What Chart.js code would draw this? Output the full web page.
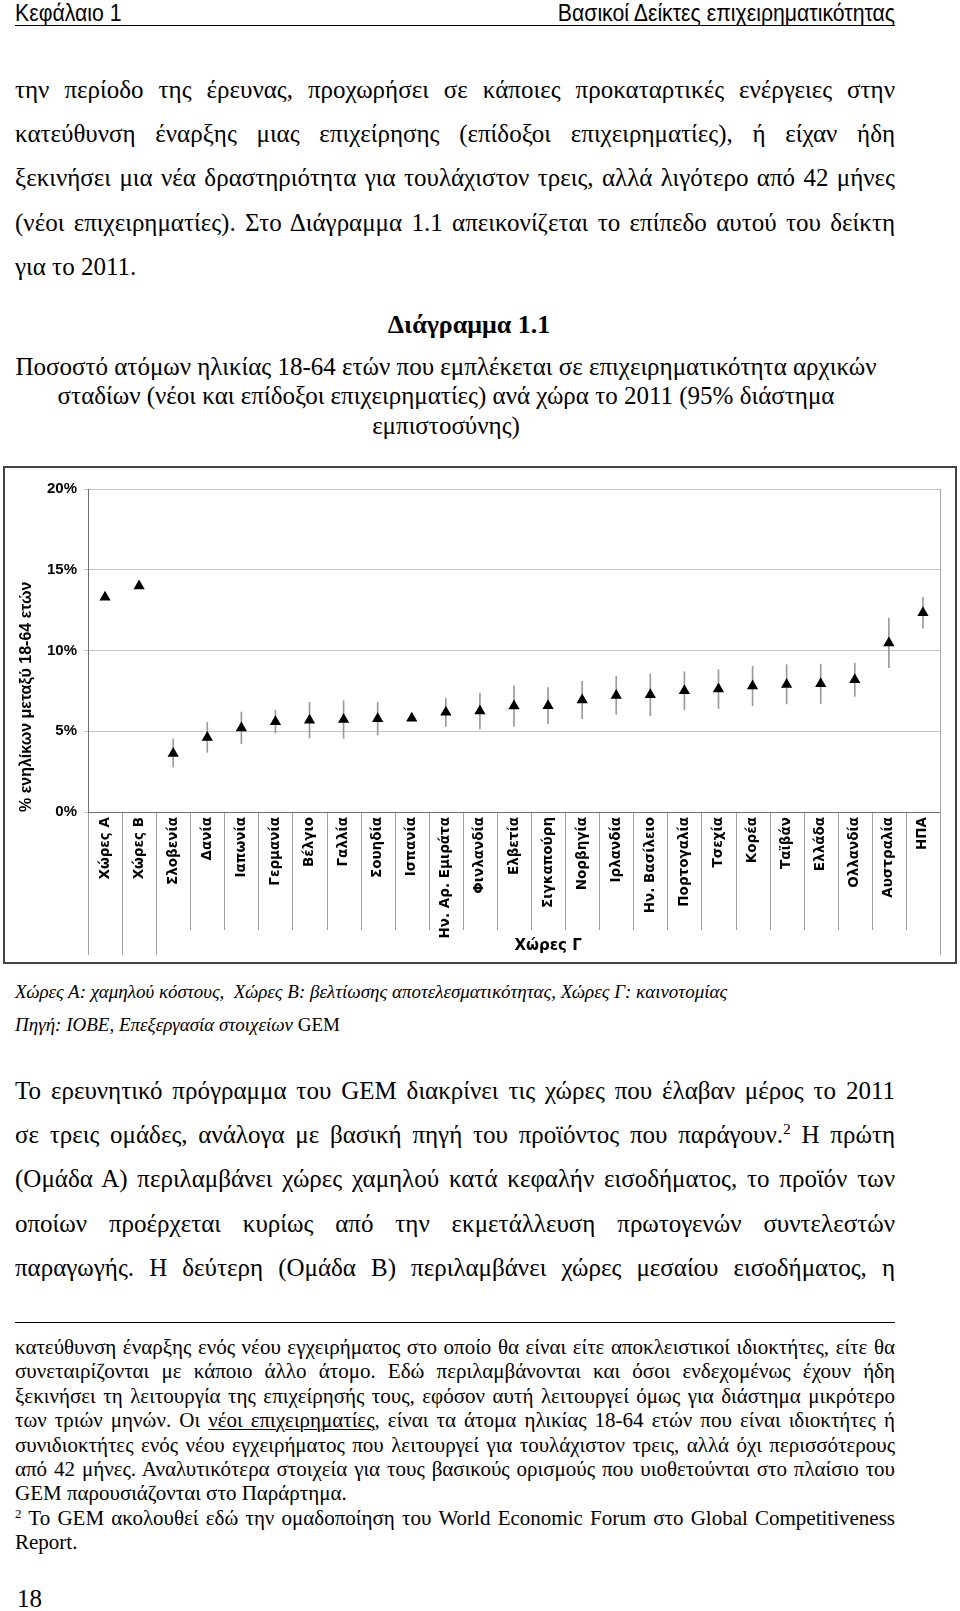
<!DOCTYPE html>
<html lang="el">
<head>
<meta charset="utf-8">
<script src="https://cdn.jsdelivr.net/npm/chart.js@4.4.0/dist/chart.umd.min.js"></script>
<style>
  html, body { margin: 0; padding: 0; background: #fff; }
  body { width: 960px; height: 1611px; position: relative; overflow: hidden; color: #000;
         font-family: "Liberation Serif", "Times New Roman", serif; }
  .abs { position: absolute; left: 15px; width: 880px; }
  .hdr { top: 0; height: 25px; border-bottom: 1.5px solid #000; font-family: "Liberation Sans", Arial, sans-serif;
         font-size: 24px; line-height: 25px; }
  .hdr span { position: absolute; top: 0; display: inline-block; transform: scaleX(.885); }
  .hdr .l { left: 0; transform-origin: left center; }
  .hdr .r { right: 0; transform-origin: right center; }
  .p { font-size: 25px; line-height: 44.2px; }
  .j { text-align: justify; text-align-last: justify; white-space: nowrap; }
  .cap-h { top: 309px; font-size: 26px; line-height: 32px; font-weight: bold; text-align: center; padding-left: 28px; box-sizing: border-box; }
  .cap { top: 352px; font-size: 25px; line-height: 29.3px; text-align: center; left: 6px; }
  #box { position: absolute; left: 3px; top: 466px; width: 954px; height: 498px; border: 2px solid #444; box-sizing: border-box; }
  #wrap { position: relative; width: 950px; height: 494px; }
  .notes { top: 975px; font-size: 19px; line-height: 33px; font-style: italic; }
  .notes .n { font-style: normal; }
  .rule { top: 1322px; height: 0; border-top: 1.5px solid #000; }
  .fn { top: 1335px; font-size: 21px; line-height: 24.4px; }
  .fn u { text-decoration-thickness: 1px; text-underline-offset: 2px; }
  sup { font-size: 62%; line-height: 0; vertical-align: 0.55em; }
  .pg { top: 1585px; left: 17px; font-size: 25px; line-height: 28px; }
</style>
</head>
<body>

<div class="abs hdr"><span class="l">Κεφάλαιο 1</span><span class="r">Βασικοί Δείκτες επιχειρηματικότητας</span></div>

<div class="abs p" style="top:68px">
  <div class="j">την περίοδο της έρευνας, προχωρήσει σε κάποιες προκαταρτικές ενέργειες στην</div>
  <div class="j">κατεύθυνση έναρξης μιας επιχείρησης (επίδοξοι επιχειρηματίες), ή είχαν ήδη</div>
  <div class="j">ξεκινήσει μια νέα δραστηριότητα για τουλάχιστον τρεις, αλλά λιγότερο από 42 μήνες</div>
  <div class="j">(νέοι επιχειρηματίες). Στο Διάγραμμα 1.1 απεικονίζεται το επίπεδο αυτού του δείκτη</div>
  <div>για το 2011.</div>
</div>

<div class="abs cap-h">Διάγραμμα 1.1</div>
<div class="abs cap">
  <div>Ποσοστό ατόμων ηλικίας 18-64 ετών που εμπλέκεται σε επιχειρηματικότητα αρχικών</div>
  <div>σταδίων (νέοι και επίδοξοι επιχειρηματίες) ανά χώρα το 2011 (95% διάστημα</div>
  <div>εμπιστοσύνης)</div>
</div>

<div id="box"><div id="wrap"><canvas id="chart"></canvas></div></div>

<div class="abs notes">
  <div>Χώρες Α: χαμηλού κόστους,&nbsp; Χώρες Β: βελτίωσης αποτελεσματικότητας, Χώρες Γ: καινοτομίας</div>
  <div>Πηγή: ΙΟΒΕ, Επεξεργασία στοιχείων <span class="n">GEM</span></div>
</div>

<div class="abs p" style="top:1069px">
  <div class="j">Το ερευνητικό πρόγραμμα του GEM διακρίνει τις χώρες που έλαβαν μέρος το 2011</div>
  <div class="j">σε τρεις ομάδες, ανάλογα με βασική πηγή του προϊόντος που παράγουν.<sup>2</sup> Η πρώτη</div>
  <div class="j">(Ομάδα Α) περιλαμβάνει χώρες χαμηλού κατά κεφαλήν εισοδήματος, το προϊόν των</div>
  <div class="j">οποίων προέρχεται κυρίως από την εκμετάλλευση πρωτογενών συντελεστών</div>
  <div class="j">παραγωγής. Η δεύτερη (Ομάδα Β) περιλαμβάνει χώρες μεσαίου εισοδήματος, η</div>
</div>

<div class="abs rule"></div>

<div class="abs fn">
  <div class="j">κατεύθυνση έναρξης ενός νέου εγχειρήματος στο οποίο θα είναι είτε αποκλειστικοί ιδιοκτήτες, είτε θα</div>
  <div class="j">συνεταιρίζονται με κάποιο άλλο άτομο. Εδώ περιλαμβάνονται και όσοι ενδεχομένως έχουν ήδη</div>
  <div class="j">ξεκινήσει τη λειτουργία της επιχείρησής τους, εφόσον αυτή λειτουργεί όμως για διάστημα μικρότερο</div>
  <div class="j">των τριών μηνών. Οι <u>νέοι επιχειρηματίες</u>, είναι τα άτομα ηλικίας 18-64 ετών που είναι ιδιοκτήτες ή</div>
  <div class="j">συνιδιοκτήτες ενός νέου εγχειρήματος που λειτουργεί για τουλάχιστον τρεις, αλλά όχι περισσότερους</div>
  <div class="j">από 42 μήνες. Αναλυτικότερα στοιχεία για τους βασικούς ορισμούς που υιοθετούνται στο πλαίσιο του</div>
  <div>GEM παρουσιάζονται στο Παράρτημα.</div>
  <div class="j"><sup>2</sup> Το GEM ακολουθεί εδώ την ομαδοποίηση του World Economic Forum στο Global Competitiveness</div>
  <div>Report.</div>
</div>

<div class="abs pg">18</div>

<script>
const categories = [
  'Χώρες Α', 'Χώρες Β', 'Σλοβενία', 'Δανία', 'Ιαπωνία', 'Γερμανία', 'Βέλγιο', 'Γαλλία',
  'Σουηδία', 'Ισπανία', 'Ην. Αρ. Εμιράτα', 'Φινλανδία', 'Ελβετία', 'Σιγκαπούρη', 'Νορβηγία',
  'Ιρλανδία', 'Ην. Βασίλειο', 'Πορτογαλία', 'Τσεχία', 'Κορέα', 'Ταϊβάν', 'Ελλάδα',
  'Ολλανδία', 'Αυστραλία', 'ΗΠΑ'
];
// συνολική επιχειρηματικότητα αρχικών σταδίων (%)
const rates = [13.3, 14.0, 3.63, 4.62, 5.2, 5.59, 5.68, 5.72, 5.78, 5.8, 6.17, 6.25, 6.56,
  6.58, 6.93, 7.22, 7.26, 7.51, 7.61, 7.8, 7.9, 7.94, 8.19, 10.47, 12.34];
// 95% διάστημα εμπιστοσύνης
const lowerBounds = [null, null, 2.79, 3.69, 4.23, 4.89, 4.58, 4.56, 4.77, null, 5.3, 5.14, 5.3,
  5.47, 5.78, 6.04, 5.96, 6.33, 6.41, 6.58, 6.69, 6.72, 7.16, 8.93, 11.39];
const upperBounds = [null, null, 4.52, 5.55, 6.19, 6.29, 6.79, 6.89, 6.79, null, 7.04, 7.37, 7.82,
  7.7, 8.09, 8.4, 8.56, 8.69, 8.81, 9.02, 9.12, 9.16, 9.22, 12.01, 13.29];
const yTicks = [0, 5, 10, 15, 20];
const groupLabel = 'Χώρες Γ';
const groupRange = [2, 24];

const ctx = document.getElementById('chart');

const framePlugin = {
  id: 'frame',
  beforeDatasetsDraw(chart) {
    const { ctx, chartArea: a, scales: { x } } = chart;
    const n = categories.length;
    const step = x.getPixelForValue(1) - x.getPixelForValue(0);
    ctx.save();
    // separators between categories
    ctx.strokeStyle = '#a0a0a0';
    ctx.lineWidth = 1;
    for (let i = 0; i <= n; i++) {
      const px = Math.round(x.getPixelForValue(0) - step / 2 + i * step) + 0.5;
      const long = i <= groupRange[0] || i === n;
      ctx.beginPath();
      ctx.moveTo(px, a.bottom);
      ctx.lineTo(px, a.bottom + (long ? 143 : 118));
      ctx.stroke();
    }
    // plot border
    ctx.strokeStyle = '#a8a8a8';
    ctx.beginPath();
    ctx.moveTo(Math.round(a.right) + 0.5, a.top);
    ctx.lineTo(Math.round(a.right) + 0.5, a.bottom);
    ctx.stroke();
    ctx.strokeStyle = '#707070';
    ctx.beginPath();
    ctx.moveTo(Math.round(a.left) + 0.5, a.top);
    ctx.lineTo(Math.round(a.left) + 0.5, a.bottom);
    ctx.moveTo(a.left, Math.round(a.bottom) + 0.5);
    ctx.lineTo(a.right, Math.round(a.bottom) + 0.5);
    ctx.stroke();
    // group label
    const cx = (x.getPixelForValue(groupRange[0]) + x.getPixelForValue(groupRange[1])) / 2;
    ctx.fillStyle = '#000';
    ctx.font = 'bold 15px "DejaVu Sans"';
    ctx.textAlign = 'center';
    ctx.textBaseline = 'middle';
    ctx.fillText(groupLabel, cx, a.bottom + 134);
    ctx.restore();
  }
};

new Chart(ctx, {
  type: 'bar',
  data: {
    labels: categories,
    datasets: [
      {
        label: 'διάστημα',
        data: categories.map((c, i) => lowerBounds[i] == null ? null : [lowerBounds[i], upperBounds[i]]),
        backgroundColor: '#9a9a9a',
        barThickness: 1,
        grouped: false,
        order: 2,
      },
      {
        type: 'line',
        label: 'TEA',
        data: rates,
        showLine: false,
        pointStyle: 'triangle',
        pointRadius: 6.5,
        pointHoverRadius: 6.5,
        pointBackgroundColor: '#000',
        pointBorderColor: '#000',
        pointBorderWidth: 0,
        order: 1,
      },
    ],
  },
  options: {
    responsive: true,
    maintainAspectRatio: false,
    animation: false,
    devicePixelRatio: 1,
    layout: { padding: { left: 0, top: 21, right: 15, bottom: 0 } },
    plugins: { legend: { display: false }, tooltip: { enabled: false } },
    scales: {
      x: {
        offset: true,
        grid: { display: false },
        border: { display: false },
        ticks: {
          autoSkip: false,
          minRotation: 90,
          maxRotation: 90,
          padding: -3,
          color: '#000',
          font: { family: 'DejaVu Sans', size: 13.5, weight: 'bold' },
        },
        afterFit: (s) => { s.height = 150; },
      },
      y: {
        min: 0,
        max: 20,
        afterBuildTicks: (s) => { s.ticks = yTicks.map((v) => ({ value: v })); },
        grid: { color: '#c4c4c4', tickLength: 4, lineWidth: 1 },
        border: { display: false },
        ticks: {
          padding: 7,
          color: '#000',
          font: { family: 'Liberation Sans', size: 15, weight: 'bold' },
          callback: (v) => v + '%',
        },
        title: {
          display: true,
          text: '% ενηλίκων μεταξύ 18-64 ετών',
          align: 'start',
          color: '#000',
          padding: { top: 12, bottom: 0 },
          font: { family: 'Liberation Sans', size: 16, weight: 'bold' },
        },
        afterFit: (s) => { s.width = 83; },
      },
    },
  },
  plugins: [framePlugin],
});
</script>
</body>
</html>
